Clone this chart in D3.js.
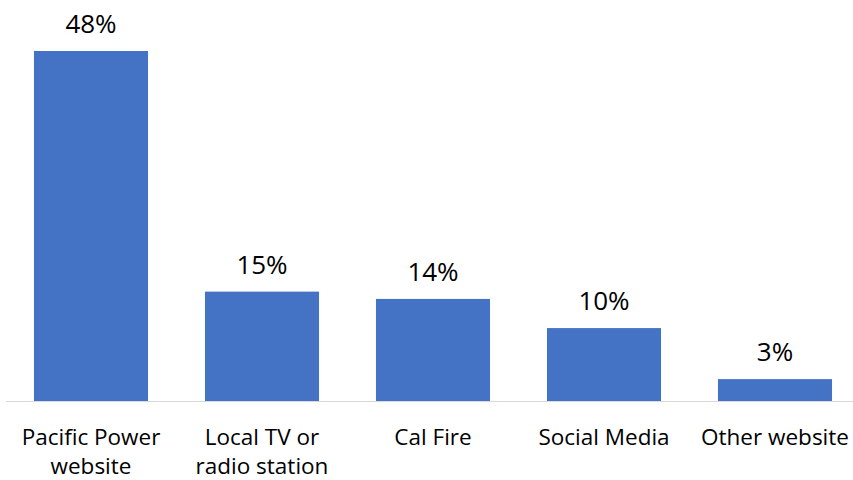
<!DOCTYPE html>
<html><head><meta charset="utf-8">
<script src="https://cdn.jsdelivr.net/npm/d3@7"></script>
<style>body{margin:0;background:#fff}svg{display:block}</style>
</head><body>
<svg id="c" width="853" height="480"></svg>
<script>
const categories = [["Pacific Power","website"],["Local TV or","radio station"],["Cal Fire"],["Social Media"],["Other website"]];
const values = [48, 15, 14, 10, 3];
const valueLabels = ["48%","15%","14%","10%","3%"];

const svg = d3.select("#c");
const font = "'Open Sans', sans-serif";
const x = d3.scaleBand().domain(d3.range(values.length)).range([5.5, 860.5]).paddingInner(0.333).paddingOuter(0.1665);
const y = d3.scaleLinear().domain([0, 48]).range([401, 51]);

svg.append("line").attr("x1", 6).attr("x2", 853).attr("y1", y(0)+0.5).attr("y2", y(0)+0.5)
  .attr("stroke", "#d9d9d9").attr("stroke-width", 1.2);

svg.selectAll("rect.bar").data(values).join("rect").attr("class","bar")
  .attr("x", (d,i)=>x(i)).attr("width", x.bandwidth())
  .attr("y", d=>y(d)).attr("height", d=>y(0)-y(d)).attr("fill", "#4472c4");

svg.selectAll("text.val").data(values).join("text").attr("class","val")
  .attr("x", (d,i)=>x(i)+x.bandwidth()/2).attr("y", d=>y(d)-18)
  .attr("text-anchor","middle").attr("font-family", font).attr("font-size", 26).attr("fill","#000")
  .text((d,i)=>valueLabels[i]);

const cat = svg.selectAll("text.cat").data(categories).join("text").attr("class","cat")
  .attr("text-anchor","middle").attr("font-family", font).attr("font-size", 22.5).attr("fill","#000")
  .attr("x", (d,i)=>x(i)+x.bandwidth()/2).attr("y", 445);
cat.selectAll("tspan").data(d=>d).join("tspan")
  .attr("x", function(){return d3.select(this.parentNode).attr("x");})
  .attr("dy", (d,j)=>j===0?0:29).text(d=>d);
</script>
</body></html>
